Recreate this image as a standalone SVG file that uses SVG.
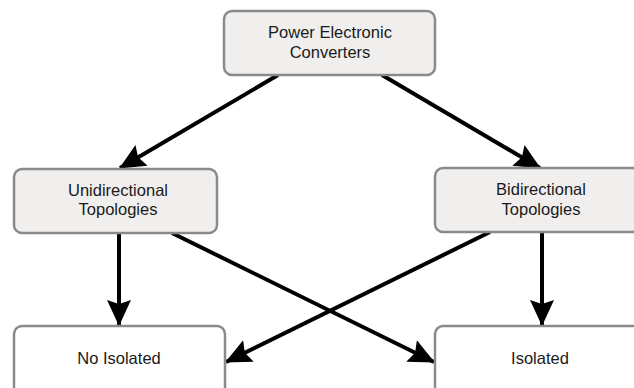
<svg xmlns="http://www.w3.org/2000/svg" width="634" height="388" viewBox="0 0 634 388">
  <style>
    .box { stroke: #8a8a8a; stroke-width: 2.5; }
    .grey { fill: #f0efee; }
    .white { fill: #ffffff; }
    .lbl { font-family: "Liberation Sans", Arial, sans-serif; font-size: 16.5px; fill: #1a1a1a; text-anchor: middle; }
    .conn { stroke: #000; stroke-width: 4; fill: none; marker-end: url(#arrow); }
  </style>
  <defs>
    <marker id="arrow" markerUnits="userSpaceOnUse" markerWidth="26" markerHeight="24" viewBox="0 0 26 24" refX="25" refY="12" orient="auto">
      <path d="M0,0 L26,12 L0,24 L4,12 z" fill="#000"/>
    </marker>
  </defs>
  <rect width="634" height="388" fill="#ffffff"/>

  <g id="connectors">
    <line class="conn" x1="278" y1="75" x2="120" y2="168"/>
    <line class="conn" x1="382" y1="75" x2="540" y2="168"/>
    <line class="conn" x1="119" y1="233" x2="119" y2="325"/>
    <line class="conn" x1="542" y1="232" x2="542" y2="325"/>
    <line class="conn" x1="172" y1="233" x2="434" y2="362"/>
    <line class="conn" x1="490" y1="232" x2="226" y2="362"/>
  </g>

  <g id="node-power">
    <rect class="box grey" x="224" y="11" width="211" height="64" rx="8"/>
    <text class="lbl" x="330" y="38">Power Electronic</text>
    <text class="lbl" x="330" y="58">Converters</text>
  </g>

  <g id="node-unidirectional">
    <rect class="box grey" x="14" y="169" width="203" height="64" rx="8"/>
    <text class="lbl" x="118" y="196">Unidirectional</text>
    <text class="lbl" x="118" y="215">Topologies</text>
  </g>

  <g id="node-bidirectional">
    <rect class="box grey" x="435" y="168" width="215" height="64" rx="8"/>
    <text class="lbl" x="541" y="195">Bidirectional</text>
    <text class="lbl" x="541" y="215">Topologies</text>
  </g>

  <g id="node-noisolated">
    <rect class="box white" x="14" y="326" width="211" height="70" rx="8"/>
    <text class="lbl" x="119" y="364">No Isolated</text>
  </g>

  <g id="node-isolated">
    <rect class="box white" x="435" y="326" width="215" height="70" rx="8"/>
    <text class="lbl" x="540" y="364">Isolated</text>
  </g>
</svg>
